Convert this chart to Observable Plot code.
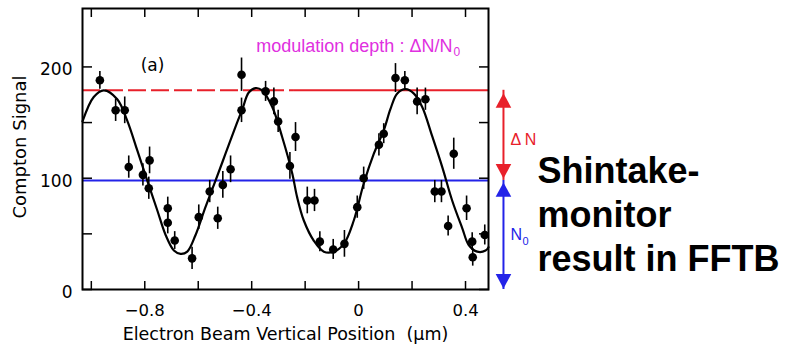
<!DOCTYPE html>
<html><head><meta charset="utf-8">
<script src="https://cdn.jsdelivr.net/npm/d3@7"></script>
<script src="https://cdn.jsdelivr.net/npm/@observablehq/plot@0.6"></script>
<style>html,body{margin:0;padding:0;background:#fff}svg{display:block}</style>
</head><body><div id="chart"></div>
<script>
// measured data points (position in µm, Compton signal) with error half-lengths
const pointX = [-0.968,-0.909,-0.875,-0.860,-0.807,-0.785,-0.782,-0.714,-0.714,-0.688,-0.623,-0.598,-0.557,-0.527,-0.508,-0.479,-0.438,-0.438,-0.348,-0.317,-0.301,-0.257,-0.236,-0.192,-0.165,-0.145,-0.095,-0.053,-0.005,0.019,0.076,0.094,0.138,0.173,0.219,0.250,0.285,0.310,0.335,0.356,0.404,0.425,0.427,0.472];
const pointY = [188,161,161,110,103,91,116,73,60,44,28,65,88,64,94,108,161,193,178,169,151,111,137,80,80,43,36,41,74,100,130,140,190,188,169,171,88,88,57,122,73,43,29,49];
const pointErr = [8,10,12,10,10,10,12,10,10,8,10,11,10,10,12,12,11,15,9,12,10,12,13,12,10,9,9,12,10,10,10,9,13,8,12,10,10,10,9,14,11,8,8,9];
// fitted curve
const fitX = [-1.033,-0.991,-0.953,-0.903,-0.866,-0.828,-0.791,-0.753,-0.722,-0.691,-0.666,-0.641,-0.610,-0.573,-0.535,-0.498,-0.461,-0.435,-0.411,-0.386,-0.361,-0.323,-0.286,-0.248,-0.230,-0.205,-0.168,-0.130,-0.093,-0.055,-0.018,0.019,0.057,0.094,0.119,0.144,0.176,0.207,0.238,0.275,0.313,0.350,0.388,0.412,0.444,0.475,0.486];
const fitY = [151,173,179,171,152,125,98,71,49,35,32,34,49,74,98,122,146,162,177,181,179,164,137,104,83,62,44,34,34,41,62,95,122,143,162,176,180,176,164,138,110,80,55,40,34,35,38];
// reference levels
const levelMax = 179;   // N0 + ΔN
const levelN0 = 98;     // N0
// axes
const xDomain = [-1.033, 0.486];
const yDomain = [0, 252.5];
const xTicks = [-1.0,-0.8,-0.6,-0.4,-0.2,0,0.2,0.4];
const xLabelTicks = [-0.8,-0.4,0,0.4];
const xTickLabels = ["\u22120.8","\u22120.4","0","0.4"];
const yTicks = [0,50,100,150,200];
const yLabelTicks = [0,100,200];
const yTickLabels = ["0","100","200"];
const xTitle = "Electron Beam Vertical Position\u00a0 (\u03bcm)";
const yTitle = "Compton Signal";
const panelLabel = "(a)";
const noteText = "modulation depth : \u0394N/N";
const noteSub = "0";
const deltaLabel = "\u0394 N";
const n0Label = "N";
const n0Sub = "0";
const sideText = "Shintake-\nmonitor\nresult in FFTB";

const points = pointX.map((x, i) => ({x, y: pointY[i], e: pointErr[i]}));
const fit = fitX.map((x, i) => ({x, y: fitY[i]}));

const RED = "#e8202a", BLUE = "#2323e8", MAG = "#e030e0";
const arrowX = 0.542;
const dashEnd = -0.24;

const triUp = {draw(ctx, size){ const r = Math.sqrt(size/Math.PI); const w = 1.3*r, h = 2.4*r; ctx.moveTo(0,0); ctx.lineTo(-w,h); ctx.lineTo(w,h); ctx.closePath(); }};
const triDown = {draw(ctx, size){ const r = Math.sqrt(size/Math.PI); const w = 1.3*r, h = 2.4*r; ctx.moveTo(0,0); ctx.lineTo(-w,-h); ctx.lineTo(w,-h); ctx.closePath(); }};

const SANS = "'Liberation Sans', Arial, sans-serif";
const chart = Plot.plot({
  width: 787, height: 350,
  marginLeft: 82, marginRight: 299, marginTop: 8, marginBottom: 61,
  x: {domain: xDomain},
  y: {domain: yDomain},
  style: {fontFamily: "'DejaVu Sans', sans-serif", fontSize: "17px", color: "black", background: "white", overflow: "visible"},
  marks: [
    Plot.ruleY([levelN0], {stroke: BLUE, strokeWidth: 2}),
    Plot.ruleY([levelMax], {x1: xDomain[0], x2: dashEnd, stroke: RED, strokeWidth: 2, strokeDasharray: "18,5"}),
    Plot.ruleY([levelMax], {x1: dashEnd, x2: xDomain[1], stroke: RED, strokeWidth: 2}),
    Plot.line(fit, {x: "x", y: "y", curve: "catmull-rom", stroke: "black", strokeWidth: 2.2}),
    Plot.ruleX(points, {x: "x", y1: d => d.y - d.e, y2: d => d.y + d.e, stroke: "black", strokeWidth: 1.6}),
    Plot.dot(points, {x: "x", y: "y", r: 4.3, fill: "black"}),
    Plot.frame({stroke: "black", strokeWidth: 2}),
    Plot.axisX({ticks: xTicks, anchor: "bottom", tickSize: -8, tickFormat: () => "", label: null, strokeWidth: 1.5}),
    Plot.axisX({ticks: xTicks, anchor: "top", tickSize: -8, tickFormat: () => "", label: null, strokeWidth: 1.5}),
    Plot.axisX({ticks: xLabelTicks, anchor: "bottom", tickSize: 0, tickPadding: 15, tickFormat: (d, i) => xTickLabels[i], label: null, fontSize: 16.5}),
    Plot.axisY({ticks: yTicks, anchor: "left", tickSize: -10, tickFormat: () => "", label: null, strokeWidth: 1.5}),
    Plot.axisY({ticks: yTicks, anchor: "right", tickSize: -10, tickFormat: () => "", label: null, strokeWidth: 1.5}),
    Plot.axisY({ticks: yLabelTicks, anchor: "left", tickSize: 0, tickPadding: 10, dy: 3, tickFormat: (d, i) => yTickLabels[i], label: null, fontSize: 17}),
    Plot.text([xTitle], {frameAnchor: "bottom", textAnchor: "middle", dy: 45, text: d => d, fontSize: 17.5, letterSpacing: 0.6, lineAnchor: "middle"}),
    Plot.text([yTitle], {frameAnchor: "left", textAnchor: "middle", dx: -62, dy: -2, rotate: -90, text: d => d, fontSize: 18, letterSpacing: 1, lineAnchor: "middle"}),
    Plot.text([panelLabel], {x: -0.771, y: 201, text: d => d, fontSize: 17, lineAnchor: "middle"}),
    Plot.text([noteText], {x: 0.351, y: 219, text: d => d, textAnchor: "end", fontSize: 18, fill: MAG, fontFamily: SANS, lineAnchor: "middle"}),
    Plot.text([noteSub], {x: 0.351, y: 219, text: d => d, textAnchor: "start", dx: 1, dy: 6, fontSize: 12, fill: MAG, fontFamily: SANS, lineAnchor: "middle"}),
    // ΔN arrow
    Plot.ruleX([arrowX], {y1: levelN0, y2: levelMax, stroke: RED, strokeWidth: 2}),
    Plot.dot([levelMax], {x: arrowX, y: d => d, dy: 3, symbol: triUp, r: 6, fill: RED, stroke: null}),
    Plot.dot([levelN0], {x: arrowX, y: d => d, dy: -2, symbol: triDown, r: 6, fill: RED, stroke: null}),
    // N0 arrow
    Plot.ruleX([arrowX], {y1: 0, y2: levelN0, stroke: BLUE, strokeWidth: 2}),
    Plot.dot([levelN0], {x: arrowX, y: d => d, dy: 2, symbol: triUp, r: 6, fill: BLUE, stroke: null}),
    Plot.dot([0], {x: arrowX, y: d => d, dy: -1, symbol: triDown, r: 6, fill: BLUE, stroke: null}),
    Plot.text([deltaLabel], {x: arrowX, y: (levelMax + levelN0) / 2 - 4, dx: 7, text: d => d, textAnchor: "start", fontSize: 16, fill: RED, fontFamily: SANS, lineAnchor: "middle"}),
    Plot.text([n0Label], {x: arrowX, y: levelN0 / 2, dx: 7, text: d => d, textAnchor: "start", fontSize: 16, fill: BLUE, fontFamily: SANS, lineAnchor: "middle"}),
    Plot.text([n0Sub], {x: arrowX, y: levelN0 / 2, dx: 19, dy: 6, text: d => d, textAnchor: "start", fontSize: 11, fill: BLUE, fontFamily: SANS, lineAnchor: "middle"}),
    Plot.text([sideText], {x: 0.669, y: 68.7, text: d => d, textAnchor: "start", fontSize: 36, fontWeight: "bold", fontFamily: SANS, lineHeight: 1.22, lineAnchor: "middle", fill: "black"})
  ]
});
document.getElementById("chart").append(chart);
</script>
</body></html>
